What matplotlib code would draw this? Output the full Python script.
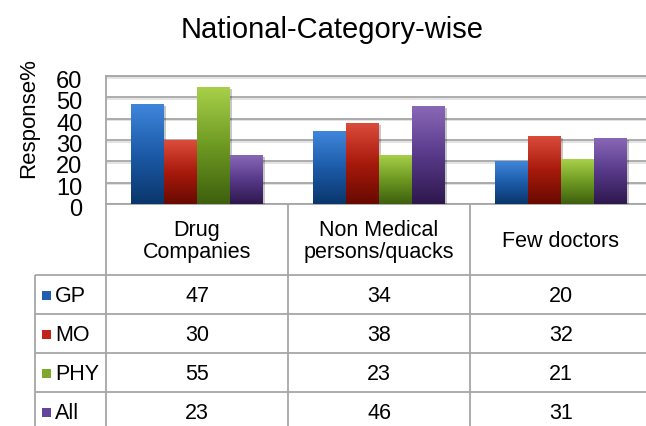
import matplotlib
matplotlib.use('Agg')
import matplotlib.pyplot as plt
import numpy as np
from matplotlib import font_manager
from matplotlib.colors import LinearSegmentedColormap
from matplotlib.patches import Rectangle
import matplotlib.patheffects as pe
import matplotlib.transforms as mtransforms

# ---------------- data ----------------
title = "National-Category-wise"
categories = ["Drug\nCompanies", "Non Medical\npersons/quacks", "Few doctors"]
series = ["GP", "MO", "PHY", "All"]
GP = [47, 34, 20]
MO = [30, 38, 32]
PHY = [55, 23, 21]
ALL = [23, 46, 31]
yticks = [0, 10, 20, 30, 40, 50, 60]
ylabel = "Response%"

values = [GP, MO, PHY, ALL]
# gradient stops bottom -> middle -> top
grad = {
    "GP":  ["#0A366C", "#1C5BA8", "#3F86DB"],
    "MO":  ["#680A00", "#A81A0C", "#DC4C3C"],
    "PHY": ["#3E600E", "#6E9A22", "#A8D04A"],
    "All": ["#2E184E", "#583A8A", "#8A68B8"],
}
key_colors = {"GP": "#1F5FAE", "MO": "#C0241A", "PHY": "#7EA82C", "All": "#61449C"}

W, H = 646, 427
fig = plt.figure(figsize=(W / 100, H / 100), dpi=100)
names = {f.name for f in font_manager.fontManager.ttflist}
base = 'Liberation Sans' if 'Liberation Sans' in names else 'DejaVu Sans'
narrow = 'Liberation Sans Narrow' if 'Liberation Sans Narrow' in names else None
plt.rcParams['font.family'] = [base, 'DejaVu Sans']

grid_c = '#A6A6A6'

ax = fig.add_axes([106 / W, 1 - 205 / H, 546 / W, 128 / H])
x = np.arange(len(categories))
bw = 0.181
for k, (name, vals) in enumerate(zip(series, values)):
    bars = ax.bar(x + (k - 1.5) * bw, vals, bw, color=grad[name][1], zorder=3, linewidth=0)
    cmap = LinearSegmentedColormap.from_list(name, grad[name])
    for b in bars:
        b.set_path_effects([pe.SimplePatchShadow(offset=(1.5, -1.5), shadow_rgbFace='k', alpha=0.22),
                            pe.Normal()])
        x0 = b.get_x()
        h = b.get_height()
        im = ax.imshow(np.linspace(0, 1, 64).reshape(-1, 1), cmap=cmap, origin='lower',
                       extent=(x0, x0 + bw, 0, h), aspect='auto', zorder=4,
                       interpolation='bilinear')
        im.set_clip_path(b)

ax.set_xlim(-0.5, len(categories) - 0.5)
ax.set_ylim(yticks[0], yticks[-1])
ax.set_xticks([])
if narrow:
    ax.set_yticks(yticks, labels=[str(v) for v in yticks], fontfamily=narrow, fontsize=20)
else:
    ax.set_yticks(yticks, labels=[str(v) for v in yticks], fontsize=17)
ax.tick_params(axis='y', length=0, pad=17)
shift = mtransforms.ScaledTranslation(0, -2.5 / 100, fig.dpi_scale_trans)
for lab in ax.get_yticklabels():
    lab.set_transform(lab.get_transform() + shift)
ax.yaxis.grid(True, color=grid_c, lw=1.3)
for gl in ax.get_ygridlines():
    gl.set_path_effects([pe.SimpleLineShadow(offset=(0, -1.2), shadow_color='k', alpha=0.12),
                         pe.Normal()])
ax.set_axisbelow(True)
for s in ['right', 'bottom']:
    ax.spines[s].set_visible(False)
for s in ['left', 'top']:
    ax.spines[s].set_color(grid_c)
    ax.spines[s].set_linewidth(1.3)
ax.set_facecolor('none')

ax.set_ylabel(ylabel, fontsize=16, va='center')
ax.yaxis.set_label_coords(28.5 / W, 1 - 118.5 / H, transform=fig.transFigure)

fig.text(332.5 / W, 1 - 38 / H, title, ha='center', va='baseline', fontsize=21)

# ---------------- data table ----------------
tab = fig.add_axes([0, 0, 1, 1], zorder=-1)
tab.set_xlim(0, W)
tab.set_ylim(H, 0)
tab.axis('off')

fig.canvas.draw()
edges = [ax.transData.transform((i - 0.5, 0))[0] for i in range(len(categories) + 1)]
centers = [ax.transData.transform((i, 0))[0] for i in range(len(categories))]
head_top, head_bot, row_h = 205, 276, 39
legend_left = 35
n_rows = len(series)
bottom = head_bot + row_h * n_rows

lkw = dict(color=grid_c, lw=1.3, solid_capstyle='butt')
tab.plot([edges[0], edges[-1] + 5], [head_top, head_top], **lkw)
for r in range(n_rows + 1):
    yy = head_bot + r * row_h
    tab.plot([legend_left, edges[-1] + 5], [yy, yy], **lkw)
for e in edges:
    tab.plot([e, e], [head_top, bottom], **lkw)
tab.plot([legend_left, legend_left], [head_bot, bottom], **lkw)

tfs = 15.5
for c, cat in zip(centers, categories):
    tab.text(c, (head_top + head_bot) / 2 + 1, cat, ha='center', va='center',
             fontsize=tfs, linespacing=1.1)
for r, (name, vals) in enumerate(zip(series, values)):
    yc = head_bot + r * row_h + row_h / 2 + 1
    tab.add_patch(Rectangle((42, yc - 5), 9, 9, color=key_colors[name], lw=0))
    tab.text(55, yc, name, ha='left', va='center', fontsize=tfs)
    for c, v in zip(centers, vals):
        tab.text(c, yc, str(v), ha='center', va='center', fontsize=tfs)

fig.savefig('out.png', dpi=100)
